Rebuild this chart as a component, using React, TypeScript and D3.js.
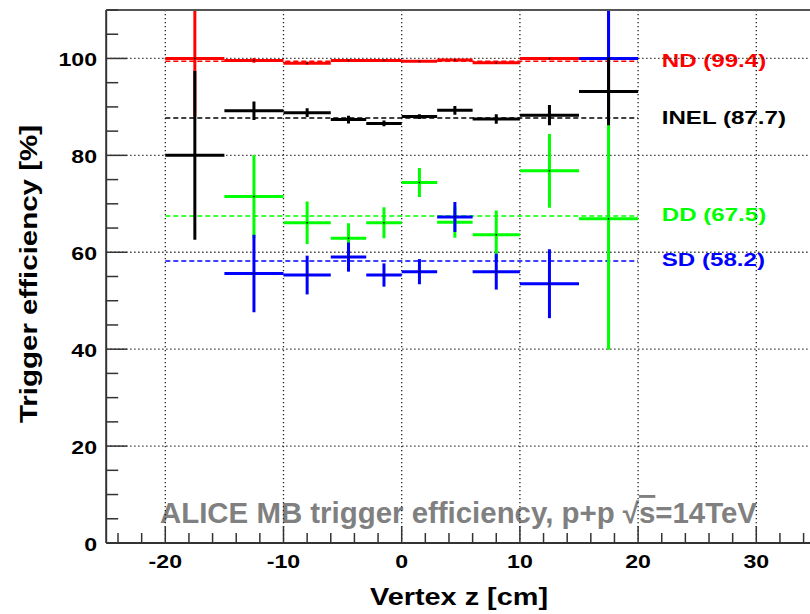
import React from "react";
import * as d3 from "d3";

const binEdges = [-20, -15, -10, -6, -3, 0, 3, 6, 10, 15, 20];
const ndValues = [100.0, 99.6, 99.0, 99.6, 99.6, 99.4, 99.7, 99.1, 100.0, 100.0];
const ndErrors = [12, 0.5, 0.3, 0.2, 0.2, 0.2, 0.2, 0.2, 0.3, 12];
const inelValues = [80.0, 89.2, 88.8, 87.4, 86.6, 88.0, 89.3, 87.5, 88.3, 93.2];
const inelErrors = [17.4, 1.9, 0.9, 0.8, 0.6, 0.5, 0.9, 1.0, 2.1, 7.0];
const ddValues: (number | null)[] = [null, 71.5, 66.1, 62.9, 66.1, 74.4, 66.2, 63.6, 76.8, 66.9];
const ddErrors: (number | null)[] = [null, 8.6, 4.4, 3.1, 3.2, 3.0, 3.2, 5.0, 7.6, 27.0];
const sdValues: (number | null)[] = [null, 55.6, 55.3, 59.0, 55.3, 56.0, 67.3, 56.0, 53.5, 100.0];
const sdErrors: (number | null)[] = [null, 8.0, 4.0, 3.0, 2.4, 2.6, 3.1, 3.7, 7.1, 12];

const seriesNames = ["ND", "INEL", "DD", "SD"];
const seriesMeans = [99.4, 87.7, 67.5, 58.2];
const seriesColors = ["#ff0000", "#000000", "#00ff00", "#0000ff"];

const xTickLabels = [-20, -10, 0, 10, 20, 30];
const yTickLabels = [0, 20, 40, 60, 80, 100];
const xTitle = "Vertex z [cm]";
const yTitle = "Trigger efficiency [%]";

const W = 810;
const H = 614;
const FONT = "'Liberation Sans', Arial, Helvetica, sans-serif";

const x = d3.scaleLinear().domain([-25, 35]).range([106.2, 815.4]);
const y = d3.scaleLinear().domain([0, 110]).range([543, 10]);

type Series = { values: (number | null)[]; errors: (number | null)[]; color: string };

function ErrorSeries({ s }: { s: Series }) {
  return (
    <g>
      {s.values.map((v, i) => {
        if (v == null) return null;
        const e = s.errors[i] ?? 0;
        const x0 = x(binEdges[i]);
        const x1 = x(binEdges[i + 1]);
        const xc = x((binEdges[i] + binEdges[i + 1]) / 2);
        const yv = y(v);
        return (
          <g key={i}>
            <line x1={x0} x2={x1} y1={yv} y2={yv} stroke={s.color} strokeWidth={3} />
            <line x1={xc} x2={xc} y1={y(v - e)} y2={y(v + e)} stroke={s.color} strokeWidth={3} />
            <rect x={xc - 0.75} y={yv - 0.75} width={1.5} height={1.5} fill="#000" />
          </g>
        );
      })}
    </g>
  );
}

export default function App() {
  const nd: Series = { values: ndValues, errors: ndErrors, color: seriesColors[0] };
  const inel: Series = { values: inelValues, errors: inelErrors, color: seriesColors[1] };
  const dd: Series = { values: ddValues, errors: ddErrors, color: seriesColors[2] };
  const sd: Series = { values: sdValues, errors: sdErrors, color: seriesColors[3] };

  const xMinor = d3.range(-24, 35, 2).filter((v) => v % 10 !== 0);
  const yMinor = d3.range(5, 111, 5).filter((v) => v % 20 !== 0);

  const left = x(-25);
  const right = x(35);
  const top = y(110);
  const bottom = y(0);

  return (
    <svg
      width={W}
      height={H}
      style={{ position: "absolute", left: 0, top: 0, background: "#fff" }}
      fontFamily={FONT}
    >
      <defs>
        <clipPath id="frame">
          <rect x={left} y={top} width={right - left} height={bottom - top} />
        </clipPath>
      </defs>
      <rect x={0} y={0} width={W} height={H} fill="#fff" />

      {/* labels of series */}
      {seriesNames.map((n, i) => (
        <text
          key={n}
          transform={`translate(${x(22)},${y(seriesMeans[i]) + 5.5}) scale(1.27,1)`}
          fontSize={19}
          fontWeight="bold"
          fill={seriesColors[i]}
        >
          {`${n} (${seriesMeans[i]})`}
        </text>
      ))}

      {/* ALICE caption */}
      <text
        x={x(-20.45)}
        y={523}
        fontSize={29}
        fontWeight="bold"
        fill="#808080"
        textLength={597}
        lengthAdjust="spacingAndGlyphs"
      >
        ALICE MB trigger efficiency, p+p √<tspan style={{ textDecoration: "overline" }}>s</tspan>=14TeV
      </text>

      {/* grid */}
      <g stroke="#222" strokeWidth={1.3} strokeDasharray="1.3,2.7">
        {xTickLabels.map((t) => (
          <line key={"gx" + t} x1={x(t)} x2={x(t)} y1={top} y2={bottom} />
        ))}
        {yTickLabels
          .filter((t) => t > 0)
          .map((t) => (
            <line key={"gy" + t} x1={left} x2={right} y1={y(t)} y2={y(t)} />
          ))}
      </g>

      {/* data */}
      <g clipPath="url(#frame)">
        {seriesMeans.map((m, i) => (
          <line
            key={"mean" + i}
            x1={x(binEdges[0])}
            x2={x(binEdges[binEdges.length - 1])}
            y1={y(m)}
            y2={y(m)}
            stroke={seriesColors[i]}
            strokeWidth={1.5}
            strokeDasharray="5,3"
          />
        ))}
        <ErrorSeries s={nd} />
        <ErrorSeries s={dd} />
        <ErrorSeries s={sd} />
        <ErrorSeries s={inel} />
      </g>

      {/* axes */}
      <g stroke="#333" strokeWidth={2}>
        <line x1={left} x2={left} y1={top} y2={bottom} />
        <line x1={left} x2={right} y1={bottom} y2={bottom} />
        <line x1={left} x2={right} y1={top} y2={top} stroke="#555" />
      </g>
      <g stroke="#333" strokeWidth={1.5}>
        {xTickLabels.map((t) => (
          <line key={"xt" + t} x1={x(t)} x2={x(t)} y1={bottom} y2={bottom - 17} />
        ))}
        {xMinor.map((t) => (
          <line key={"xm" + t} x1={x(t)} x2={x(t)} y1={bottom} y2={bottom - 10} />
        ))}
        {yTickLabels.map((t) => (
          <line key={"yt" + t} x1={left} x2={left + 21} y1={y(t)} y2={y(t)} />
        ))}
        {yMinor.map((t) => (
          <line key={"ym" + t} x1={left} x2={left + 12} y1={y(t)} y2={y(t)} />
        ))}
      </g>

      {/* tick labels */}
      {xTickLabels.map((t) => (
        <text
          key={"xl" + t}
          transform={`translate(${x(t)},568) scale(1.25,1)`}
          textAnchor="middle"
          fontSize={18.5}
          fontWeight="bold"
          fill="#000"
        >
          {t}
        </text>
      ))}
      {yTickLabels.map((t) => (
        <text
          key={"yl" + t}
          transform={`translate(97,${y(t) + 8}) scale(1.25,1)`}
          textAnchor="end"
          fontSize={18.5}
          fontWeight="bold"
          fill="#000"
        >
          {t}
        </text>
      ))}

      {/* axis titles */}
      <text
        x={459}
        y={605}
        textAnchor="middle"
        fontSize={23.5}
        fontWeight="bold"
        textLength={178}
        lengthAdjust="spacingAndGlyphs"
      >
        {xTitle}
      </text>
      <text
        transform={`translate(36.5,274) rotate(-90)`}
        textAnchor="middle"
        fontSize={23}
        fontWeight="bold"
        textLength={298}
        lengthAdjust="spacingAndGlyphs"
      >
        {yTitle}
      </text>
    </svg>
  );
}
